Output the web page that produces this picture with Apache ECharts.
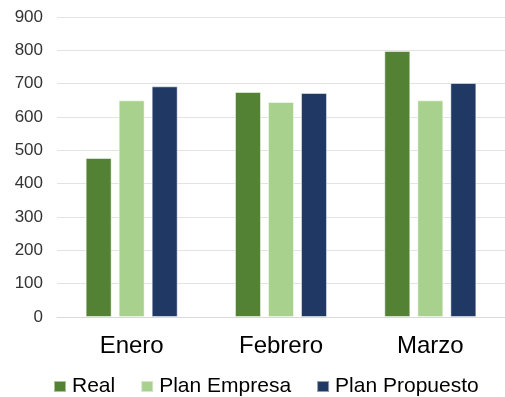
<!DOCTYPE html>
<html>
<head>
<meta charset="utf-8">
<script src="https://cdn.jsdelivr.net/npm/echarts@6/dist/echarts.min.js"></script>
<style>
  html, body { margin: 0; padding: 0; background: #fff; }
  #chart { width: 505px; height: 397px; }
</style>
</head>
<body>
<div id="chart"></div>
<script>
var months = ['Enero', 'Febrero', 'Marzo'];
var real = [477, 675, 798];
var planEmpresa = [650, 645, 650];
var planPropuesto = [692, 672, 702];
var yTicks = [0, 100, 200, 300, 400, 500, 600, 700, 800, 900];

var chartDom = document.getElementById('chart');
var myChart = echarts.init(chartDom, null, { devicePixelRatio: 1, width: 505, height: 397 });

var font = 'Liberation Sans, Arial, sans-serif';

function bar(name, data, color) {
	return {
		name: name,
		type: 'bar',
		data: data,
		barWidth: 26,
		barGap: '27%',
		itemStyle: { color: color, borderColor: 'rgba(255,255,255,0.5)', borderWidth: 1 },
		animation: false
	};
}

var option = {
	animation: false,
	grid: { left: 57, right: 0, top: 17, bottom: 80 },
	legend: {
		top: 376,
		left: 53,
		padding: 0,
		itemWidth: 12,
		itemHeight: 11,
		itemGap: 25,
		icon: 'rect',
		textStyle: { fontFamily: font, fontSize: 21, color: '#000', padding: [0, 0, 0, 1] },
		data: ['Real', 'Plan Empresa', 'Plan Propuesto']
	},
	xAxis: {
		type: 'category',
		data: months,
		axisLine: { lineStyle: { color: '#d9d9d9' } },
		axisTick: { show: false },
		axisLabel: { fontFamily: font, fontSize: 24, color: '#000', margin: 17 }
	},
	yAxis: {
		type: 'value',
		min: yTicks[0],
		max: yTicks[yTicks.length - 1],
		interval: 100,
		axisLine: { show: false },
		axisTick: { show: false },
		splitLine: { lineStyle: { color: '#e3e3e3' } },
		axisLabel: { fontFamily: font, fontSize: 17, color: '#333', margin: 14 }
	},
	series: [
		bar('Real', real, '#548235'),
		bar('Plan Empresa', planEmpresa, '#a9d18e'),
		bar('Plan Propuesto', planPropuesto, '#203864')
	]
};

option && myChart.setOption(option);
</script>
</body>
</html>
